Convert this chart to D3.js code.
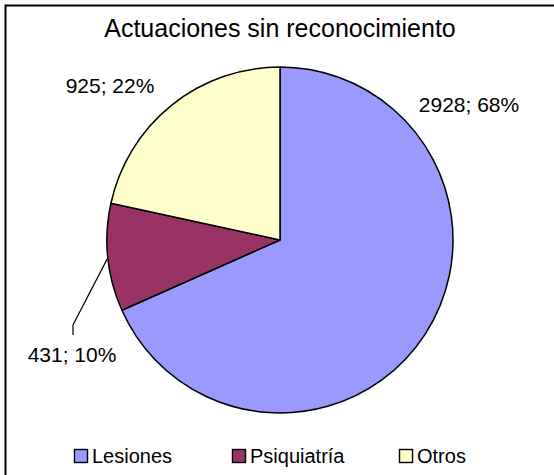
<!DOCTYPE html>
<html>
<head>
<meta charset="utf-8">
<script src="https://cdn.jsdelivr.net/npm/d3@7"></script>
<style>
  body { margin: 0; background: #fff; }
  svg { display: block; font-family: "Liberation Sans", Arial, sans-serif; }
</style>
</head>
<body>
<div id="chart"></div>
<script>
// Data
const categories = ["Lesiones", "Psiquiatría", "Otros"];
const values = [2928, 431, 925];
const percents = [68, 10, 22];
const colors = ["#9999FF", "#993366", "#FFFFCC"];
const title = "Actuaciones sin reconocimiento";

// Layout
const width = 554;
const height = 475;
const cx = 280, cy = 240, radius = 173;

// label anchors, relative to the pie centre (Excel "best fit")
const labelOffsets = [[189, -128], [-208, 122], [-170, -147]];

const svg = d3.select("#chart")
  .append("svg")
  .attr("width", width)
  .attr("height", height);

// chart area border
svg.append("rect")
  .attr("x", 5.5)
  .attr("y", 5.5)
  .attr("width", width + 10)
  .attr("height", height + 10)
  .attr("fill", "#fff")
  .attr("stroke", "#000")
  .attr("stroke-width", 2);

svg.append("text")
  .attr("x", cx)
  .attr("y", 37)
  .attr("text-anchor", "middle")
  .attr("font-size", "25px")
  .text(title);

const pie = d3.pie().sort(null).value(d => d);
const arcs = pie(values);
const arc = d3.arc().innerRadius(0).outerRadius(radius);

const g = svg.append("g").attr("transform", `translate(${cx},${cy})`);

g.selectAll("path")
  .data(arcs)
  .enter()
  .append("path")
  .attr("d", arc)
  .attr("fill", (d, i) => colors[i])
  .attr("stroke", "#000")
  .attr("stroke-width", 1.5)
  .attr("stroke-linejoin", "round");

// leader line for the small slice
const small = arcs[1];
const mid = (small.startAngle + small.endAngle) / 2;
const p0 = [Math.sin(mid) * radius, -Math.cos(mid) * radius];
const lab = labelOffsets[1];
g.append("polyline")
  .attr("points", [p0, [lab[0] + 1, lab[1] - 37], [lab[0] + 1, lab[1] - 27]].map(p => p.join(",")).join(" "))
  .attr("fill", "none")
  .attr("stroke", "#000")
  .attr("stroke-width", 1.2);

g.selectAll("text.lbl")
  .data(arcs)
  .enter()
  .append("text")
  .attr("class", "lbl")
  .attr("x", (d, i) => labelOffsets[i][0])
  .attr("y", (d, i) => labelOffsets[i][1])
  .attr("text-anchor", "middle")
  .attr("font-size", "21px")
  .text((d, i) => values[i] + "; " + percents[i] + "%");

// legend
const legendX = [74, 232, 399];
const legend = svg.append("g");
categories.forEach((c, i) => {
  legend.append("rect")
    .attr("x", legendX[i] + 0.5)
    .attr("y", 449.5)
    .attr("width", 13)
    .attr("height", 13)
    .attr("fill", colors[i])
    .attr("stroke", "#000")
    .attr("stroke-width", 1.4);
  legend.append("text")
    .attr("x", legendX[i] + 18)
    .attr("y", 463)
    .attr("font-size", "20px")
    .text(c);
});
</script>
</body>
</html>
